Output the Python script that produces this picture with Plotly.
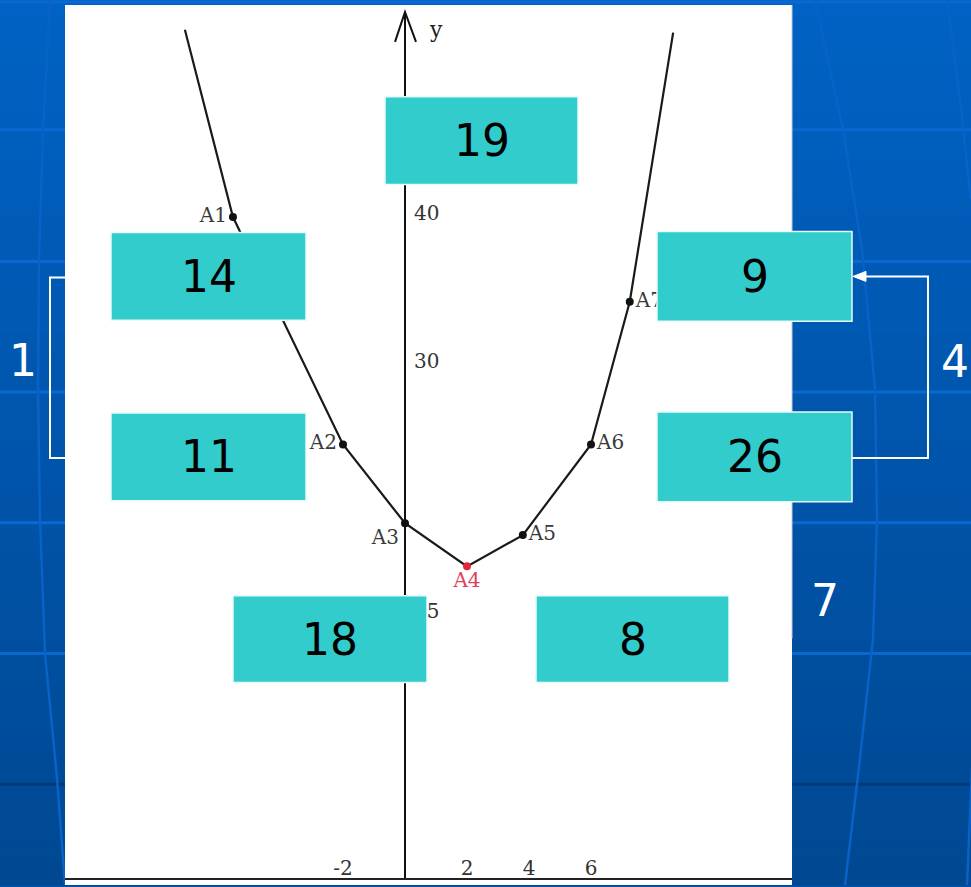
import plotly.graph_objects as go

# ---------------- data ----------------
point_names = ["A1", "A2", "A3", "A4", "A5", "A6", "A7"]
point_x = [-5.55, -2, 0, 2, 3.8, 6, 7.25]
point_y = [39.7, 24.4, 19.1, 16.2, 18.3, 24.4, 34.0]
branch_end_x = [-7.1, 8.65]
branch_end_y = [52.3, 52.1]

x_tick_vals = [-2, 2, 4, 6]
x_tick_text = ["-2", "2", "4", "6"]
y_tick_vals = [40, 30, 13.2]
y_tick_text = ["40", "30", "15"]

box_values = ["19", "14", "9", "11", "26", "18", "8"]
bracket_labels = ["1", "4", "7"]

# ---------------- layout geometry ----------------
W, H = 971, 887
ML, MR, MT, MB = 65, 179, 12, 7
PW, PH = W - ML - MR, H - MT - MB


def fx(p):
    return (p - ML) / PW


def fy(p):
    return (H - MB - p) / PH


X0PIX, SX = 405, 31.0
YPIX30, SY = 362, 14.9
x_range = [-(X0PIX - ML) / SX, (W - MR - X0PIX) / SX]
y_range = [30 - (H - MB - YPIX30) / SY, 30 + (YPIX30 - MT) / SY]

serif = "DejaVu Serif"
sans = "DejaVu Sans"

fig = go.Figure()

curve_x = [branch_end_x[0]] + point_x + [branch_end_x[1]]
curve_y = [branch_end_y[0]] + point_y + [branch_end_y[1]]
fig.add_trace(go.Scatter(x=curve_x, y=curve_y, mode="lines",
                         line=dict(color="#1a1a1a", width=2.2),
                         hoverinfo="skip", showlegend=False))

colors = ["#111111"] * len(point_names)
text_colors = ["#3a3a3a"] * len(point_names)
colors[3] = "#e0283a"
text_colors[3] = "#e0405a"
positions = ["middle left", "middle left", "bottom left", "bottom center",
             "middle right", "middle right", "middle right"]
fig.add_trace(go.Scatter(x=point_x, y=point_y, mode="markers+text",
                         text=point_names, textposition=positions,
                         textfont=dict(family=serif, size=20, color=text_colors),
                         marker=dict(color=colors, size=8),
                         showlegend=False))

shapes = []
# background gradient
n = 40
c_top = (0, 98, 196)
c_bot = (0, 72, 146)
for i in range(n):
    t = i / (n - 1)
    c = tuple(int(round(c_top[k] + (c_bot[k] - c_top[k]) * t)) for k in range(3))
    y0 = H * i / n
    y1 = H * (i + 1) / n + 1
    shapes.append(dict(type="rect", xref="paper", yref="paper", layer="below",
                       x0=fx(0), x1=fx(W), y0=fy(y0), y1=fy(y1),
                       fillcolor="rgb(%d,%d,%d)" % c, line=dict(width=0)))
# decorative grid lines
for yy in [2, 130, 262, 393, 524, 655]:
    shapes.append(dict(type="line", xref="paper", yref="paper", layer="below",
                       x0=fx(0), x1=fx(W), y0=fy(yy), y1=fy(yy),
                       line=dict(color="#0a68d0", width=3)))
shapes.append(dict(type="line", xref="paper", yref="paper", layer="below",
                   x0=fx(0), x1=fx(W), y0=fy(786), y1=fy(786),
                   line=dict(color="#003a78", width=3)))
curves = [
    [(815, 0), (843, 130), (862, 250), (875, 390), (877, 520), (873, 640), (860, 760), (845, 887)],
    [(947, 0), (960, 100), (971, 200)],
    [(975, 700), (967, 887)],
    [(50, 0), (43, 130), (39, 262), (38, 393), (40, 520), (45, 655), (57, 780), (65, 887)],
]
for pts in curves:
    path = "M " + " L ".join("%f,%f" % (fx(a), fy(b)) for a, b in pts)
    shapes.append(dict(type="path", xref="paper", yref="paper", layer="below",
                       path=path, line=dict(color="#0862c8", width=2.5)))
# white panel
shapes.append(dict(type="rect", xref="paper", yref="paper", layer="below",
                   x0=fx(65), x1=fx(792), y0=fy(5), y1=fy(887),
                   fillcolor="white", line=dict(width=0)))
shapes.append(dict(type="line", xref="paper", yref="paper", layer="below",
                   x0=fx(792), x1=fx(792), y0=fy(5), y1=fy(640),
                   line=dict(color="#c8c8d0", width=1)))
# y axis arrow head
shapes.append(dict(type="path", xref="paper", yref="paper",
                   path="M %f,%f L %f,%f L %f,%f" % (fx(395), fy(42), fx(405), fy(12), fx(416), fy(42)),
                   line=dict(color="#111111", width=2)))

# teal boxes
box_rects = [
    (385, 97, 578, 185),
    (111, 233, 306, 321),
    (657, 232, 852, 322),
    (111, 414, 306, 502),
    (657, 413, 852, 503),
    (233, 597, 427, 684),
    (536, 597, 729, 684),
]
annotations = []
for (x0, y0, x1, y1), val in zip(box_rects, box_values):
    shapes.append(dict(type="rect", xref="paper", yref="paper", layer="above",
                       x0=fx(x0), x1=fx(x1), y0=fy(y0), y1=fy(y1),
                       fillcolor="#33cccc", line=dict(color="#e8fafa", width=1.5)))
    annotations.append(dict(xref="paper", yref="paper", x=fx((x0 + x1) / 2), y=fy((y0 + y1) / 2),
                            text=val, showarrow=False, xanchor="center", yanchor="middle",
                            font=dict(family=sans, size=44, color="black")))

# brackets
shapes.append(dict(type="path", xref="paper", yref="paper",
                   path="M %f,%f L %f,%f L %f,%f L %f,%f" % (fx(66), fy(278), fx(50), fy(278),
                                                           fx(50), fy(459), fx(66), fy(459)),
                   line=dict(color="white", width=2)))
shapes.append(dict(type="path", xref="paper", yref="paper",
                   path="M %f,%f L %f,%f L %f,%f L %f,%f" % (fx(860), fy(277), fx(928), fy(277),
                                                           fx(928), fy(459), fx(852), fy(459)),
                   line=dict(color="white", width=2)))
shapes.append(dict(type="path", xref="paper", yref="paper",
                   path="M %f,%f L %f,%f L %f,%f Z" % (fx(853), fy(277), fx(866), fy(272),
                                                      fx(866), fy(282)),
                   fillcolor="white", line=dict(color="white", width=1)))

label_pos = [(23, 361), (955, 362), (825, 602)]
for (lx, ly), lab in zip(label_pos, bracket_labels):
    annotations.append(dict(xref="paper", yref="paper", x=fx(lx), y=fy(ly), text=lab,
                            showarrow=False, xanchor="center", yanchor="middle",
                            font=dict(family=sans, size=44, color="white")))

annotations.append(dict(xref="paper", yref="paper", x=fx(436), y=fy(30), text="y",
                        showarrow=False, xanchor="center", yanchor="middle",
                        font=dict(family=serif, size=22, color="#222222")))

fig.update_layout(
    width=W, height=H,
    margin=dict(l=ML, r=MR, t=MT, b=MB, pad=0),
    paper_bgcolor="rgb(0,86,172)",
    plot_bgcolor="white",
    showlegend=False,
    shapes=shapes,
    annotations=annotations,
    xaxis=dict(range=x_range, showgrid=False, zeroline=True, zerolinecolor="#111111",
               zerolinewidth=2, showline=True, linecolor="#222222", linewidth=2,
               tickvals=x_tick_vals, ticktext=x_tick_text, ticks="",
               ticklabelposition="inside",
               tickfont=dict(family=serif, size=20, color="#333333")),
    yaxis=dict(range=y_range, showgrid=False, zeroline=False, showline=False,
               anchor="free", position=(X0PIX - ML) / PW, side="right",
               tickvals=y_tick_vals, ticktext=y_tick_text, ticks="",
               ticklabelstandoff=8,
               tickfont=dict(family=serif, size=20, color="#333333")),
)

fig.write_html("out.html", config={"displayModeBar": False},
               post_script="document.body.style.margin='0';document.body.style.overflow='hidden';")
